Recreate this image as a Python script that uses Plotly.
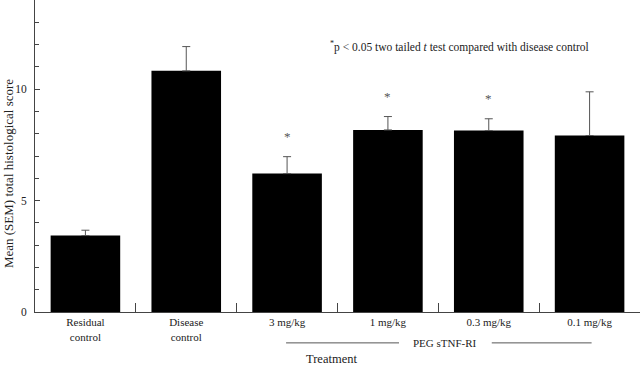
import plotly.graph_objects as go

categories = ["Residual<br>control", "Disease<br>control", "3 mg/kg", "1 mg/kg", "0.3 mg/kg", "0.1 mg/kg"]
means = [3.43, 10.82, 6.21, 8.17, 8.14, 7.92]
sems = [0.24, 1.09, 0.76, 0.60, 0.53, 1.96]
significant = [False, False, True, True, True, False]

FONT = "Liberation Serif"
TXT = "#222222"

fig = go.Figure()
fig.add_trace(go.Bar(
    x=categories, y=means,
    marker=dict(color="black", line=dict(width=0)),
    error_y=dict(type="data", array=sems, arrayminus=[0] * len(sems), symmetric=False,
                 color="#555555", thickness=1, width=4),
    width=0.69,
))

# significance stars above error bars
for c, m, s, sig in zip(categories, means, sems, significant):
    if sig:
        fig.add_annotation(x=c, y=m + s, text="*", showarrow=False, yshift=20,
                           xanchor="center", yanchor="middle",
                           font=dict(family=FONT, size=13, color="#555555"))

fig.add_annotation(xref="paper", yref="paper", x=0.702, y=0.851,
                   xanchor="center", yanchor="middle",
                   text="<sup>*</sup>p < 0.05 two tailed <i>t</i> test compared with disease control",
                   showarrow=False, font=dict(family=FONT, size=11.5, color=TXT))

fig.add_annotation(xref="paper", yref="paper", x=0, y=0.442, xshift=-27,
                   xanchor="center", yanchor="middle",
                   text="Mean (SEM) total histological score", textangle=-90, showarrow=False,
                   font=dict(family=FONT, size=13, color=TXT))

# PEG sTNF-RI group label and lines
fig.add_annotation(xref="x", yref="paper", x=3.57, y=0, yshift=-31,
                   xanchor="center", yanchor="middle",
                   text="PEG sTNF-RI", showarrow=False, font=dict(family=FONT, size=11, color=TXT))
for x0, x1 in [(1.99, 3.11), (4.03, 5.02)]:
    fig.add_shape(type="line", xref="x", yref="paper", x0=x0, x1=x1, y0=-0.099, y1=-0.099,
                  line=dict(color="#555555", width=1))

fig.add_annotation(xref="x", yref="paper", x=2.44, y=0, yshift=-47,
                   xanchor="center", yanchor="middle",
                   text="Treatment", showarrow=False, font=dict(family=FONT, size=12.5, color=TXT))

fig.update_layout(
    width=640, height=367,
    margin=dict(l=35, r=0, t=0, b=55, autoexpand=False),
    paper_bgcolor="white", plot_bgcolor="white",
    showlegend=False,
    font=dict(family=FONT, size=11, color=TXT),
    xaxis=dict(
        range=[-0.5, 5.5], showline=True, linecolor="#444444", linewidth=1,
        ticks="inside", tickson="boundaries", ticklen=9, tickcolor="#444444",
        showgrid=False, tickfont=dict(family=FONT, size=11, color=TXT), fixedrange=True,
        automargin=False,
    ),
    yaxis=dict(
        range=[0, 14], showline=True, linecolor="#444444", linewidth=1,
        ticks="inside", ticklen=5, tickcolor="#444444", dtick=5, tick0=0,
        minor=dict(dtick=1, ticks="inside", ticklen=4, tickcolor="#444444", showgrid=False),
        showgrid=False, zeroline=False, tickfont=dict(family=FONT, size=11.5, color=TXT),
        ticklabelstandoff=5, automargin=False, fixedrange=True,
    ),
)

fig.write_html("out.html", config={"displayModeBar": False},
               post_script="document.body.style.margin='0';document.body.style.overflow='hidden';")
